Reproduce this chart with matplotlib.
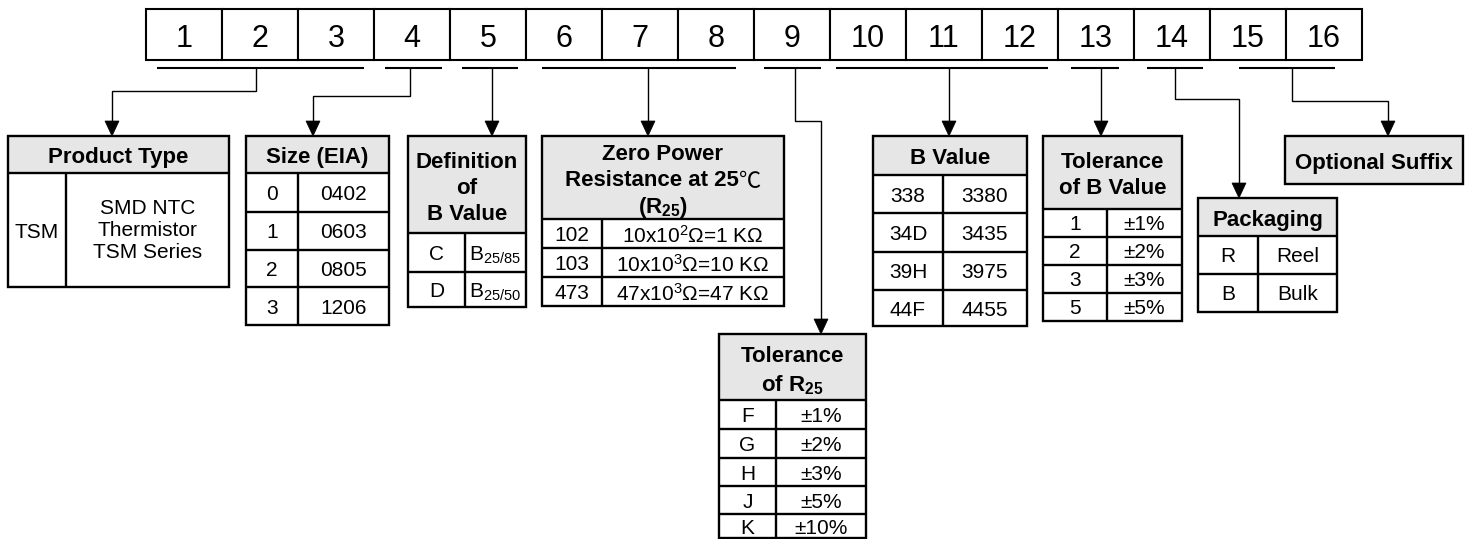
import matplotlib
matplotlib.use("Agg")
import matplotlib.pyplot as plt
from matplotlib.patches import Rectangle, Polygon

plt.rcParams["font.family"] = ["Liberation Sans", "DejaVu Sans"]
plt.rcParams["mathtext.fontset"] = "custom"
plt.rcParams["mathtext.rm"] = "Liberation Sans"
plt.rcParams["mathtext.bf"] = "Liberation Sans:bold"

# ---------------------------------------------------------------------------
# Content of the part-number key
# ---------------------------------------------------------------------------
digit_labels = [str(i) for i in range(1, 17)]

product_codes = ["TSM"]
product_desc = ["SMD NTC\nThermistor\nTSM Series"]
size_codes = ["0", "1", "2", "3"]
size_eia = ["0402", "0603", "0805", "1206"]
bdef_codes = ["C", "D"]
bdef_vals = [r"B$\mathregular{_{25/85}}$", r"B$\mathregular{_{25/50}}$"]
r25_codes = ["102", "103", "473"]
r25_vals = [r"10x10$\mathregular{^{2}}$Ω=1 KΩ",
            r"10x10$\mathregular{^{3}}$Ω=10 KΩ",
            r"47x10$\mathregular{^{3}}$Ω=47 KΩ"]
tolr_codes = ["F", "G", "H", "J", "K"]
tolr_vals = ["±1%", "±2%", "±3%", "±5%", "±10%"]
bval_codes = ["338", "34D", "39H", "44F"]
bval_vals = ["3380", "3435", "3975", "4455"]
tolb_codes = ["1", "2", "3", "5"]
tolb_vals = ["±1%", "±2%", "±3%", "±5%"]
pack_codes = ["R", "B"]
pack_vals = ["Reel", "Bulk"]

# ---------------------------------------------------------------------------
# Layout (pixel coordinates, y down)
# ---------------------------------------------------------------------------
W, H = 1472, 539
TOP_X0, CELL_W, TOP_Y0, TOP_Y1 = 146, 76, 9, 60
UNDER_Y = 68
GRAY = "#e6e6e6"
BORDER = 1.7       # pt
THIN = 1.0         # pt

fig = plt.figure(figsize=(W / 100, H / 100), dpi=100)
ax = fig.add_axes([0, 0, 1, 1])
ax.set_xlim(0, W)
ax.set_ylim(H, 0)
ax.axis("off")
renderer = fig.canvas.get_renderer()


def rect(x0, y0, x1, y1, fc="white", ec="black", lw=BORDER, z=2):
    ax.add_patch(Rectangle((x0, y0), x1 - x0, y1 - y0, fc=fc, ec=ec, lw=lw, zorder=z))


def centered_line(cx, cy, line, size):
    # bold header text; the degree sign is drawn in a thin CJK face like the original
    if "℃" in line:
        a, b = line.split("℃", 1)
        segs = [(a, dict(fontweight="bold")),
                ("℃", dict(family=["Noto Sans CJK SC", "DejaVu Sans"], fontweight="light"))]
        if b:
            segs.append((b, dict(fontweight="bold")))
    else:
        segs = [(line, dict(fontweight="bold"))]
    arts, widths = [], []
    for txt, kw in segs:
        t = ax.text(0, cy, txt, fontsize=size, ha="left", va="center_baseline", zorder=4, **kw)
        arts.append(t)
        widths.append(t.get_window_extent(renderer).width)
    x = cx - sum(widths) / 2
    for t, w in zip(arts, widths):
        t.set_x(x)
        x += w


def draw_table(cols, rows, header, codes=(), vals=(), hsize=16, bsize=15, lsp=26):
    x0, xs, x1 = cols
    y0, yh, yb = rows[0], rows[1], rows[-1]
    ax.add_patch(Rectangle((x0, y0), x1 - x0, yh - y0, fc=GRAY, ec="none", zorder=1))
    if codes:
        ax.add_patch(Rectangle((x0, yh), x1 - x0, yb - yh, fc="white", ec="none", zorder=1))
        for y in rows[1:-1]:
            ax.plot([x0, x1], [y, y], color="black", lw=BORDER, zorder=3, solid_capstyle="butt")
        ax.plot([xs, xs], [yh, yb], color="black", lw=BORDER, zorder=3, solid_capstyle="butt")
    rect(x0, y0, x1, yb, fc="none", z=3)
    n = len(header)
    cy = (y0 + yh) / 2 + 1
    for i, line in enumerate(header):
        centered_line((x0 + x1) / 2, cy + (i - (n - 1) / 2) * lsp, line, hsize)
    for i, (c, v) in enumerate(zip(codes, vals)):
        ym = (rows[i + 1] + rows[i + 2]) / 2
        for xc, s in (((x0 + xs) / 2, c), ((xs + x1) / 2, v)):
            va = "center" if "\n" in s else "center_baseline"
            ax.text(xc, ym, s, fontsize=bsize, ha="center", va=va, zorder=4, linespacing=1.2)


# top row of 16 digit positions
for i, lab in enumerate(digit_labels):
    x = TOP_X0 + i * CELL_W
    rect(x, TOP_Y0, x + CELL_W, TOP_Y1, lw=1.5)
    ax.text(x + CELL_W / 2, (TOP_Y0 + TOP_Y1) / 2 + 1, lab, fontsize=22,
            ha="center", va="center_baseline", zorder=4)

# underline spans and connector paths (last point = arrow tip)
underlines = [(157, 364), (385, 442), (462, 518), (542, 736), (764, 821),
              (836, 1048), (1071, 1119), (1147, 1203), (1239, 1335)]
connectors = [
    [(256, UNDER_Y), (256, 91), (112, 91), (112, 136)],
    [(410, UNDER_Y), (410, 96), (313, 96), (313, 136)],
    [(492, UNDER_Y), (492, 136)],
    [(648, UNDER_Y), (648, 136)],
    [(795, UNDER_Y), (795, 121), (821, 121), (821, 334)],
    [(949, UNDER_Y), (949, 136)],
    [(1101, UNDER_Y), (1101, 136)],
    [(1175, UNDER_Y), (1175, 99), (1239, 99), (1239, 198)],
    [(1292, UNDER_Y), (1292, 101), (1388, 101), (1388, 136)],
]
AH_W, AH_L = 7, 15
for (u0, u1), path in zip(underlines, connectors):
    ax.plot([u0, u1], [UNDER_Y, UNDER_Y], color="black", lw=1.5, solid_capstyle="butt")
    xs_ = [p[0] for p in path]
    ys_ = [p[1] for p in path]
    tx, ty = path[-1]
    ys_[-1] = ty - AH_L + 1
    ax.plot(xs_, ys_, color="black", lw=THIN, solid_joinstyle="miter")
    ax.add_patch(Polygon([(tx - AH_W, ty - AH_L), (tx + AH_W, ty - AH_L), (tx, ty)],
                         closed=True, fc="black", ec="black", lw=0.5, zorder=5))

# tables
draw_table((8, 66, 229), [136, 173, 287], ["Product Type"], product_codes, product_desc)
draw_table((246, 298, 389), [136, 173, 212, 250, 287, 325], ["Size (EIA)"], size_codes, size_eia)
draw_table((408, 465, 526), [136, 233, 272, 307], ["Definition", "of", "B Value"],
           bdef_codes, bdef_vals)
draw_table((542, 602, 784), [136, 219, 248, 277, 306],
           ["Zero Power", "Resistance at 25℃", r"(R$\mathregular{_{25}}$)"], r25_codes, r25_vals)
draw_table((719, 776, 866), [334, 400, 429, 458, 486, 514, 538],
           ["Tolerance", r"of R$\mathregular{_{25}}$"], tolr_codes, tolr_vals, lsp=28)
draw_table((873, 943, 1027), [136, 175, 213, 252, 290, 326], ["B Value"], bval_codes, bval_vals)
draw_table((1043, 1107, 1182), [136, 209, 237, 265, 293, 321], ["Tolerance", "of B Value"],
           tolb_codes, tolb_vals)
draw_table((1198, 1258, 1337), [198, 236, 274, 312], ["Packaging"], pack_codes, pack_vals)
draw_table((1285, None, 1463), [136, 184], ["Optional Suffix"])

fig.savefig("out.png", dpi=100, facecolor="white")
